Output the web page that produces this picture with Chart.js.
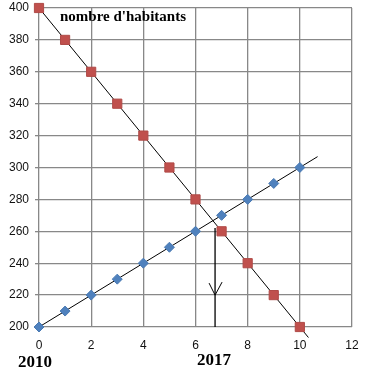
<!DOCTYPE html>
<html>
<head>
<meta charset="utf-8">
<script src="https://cdn.jsdelivr.net/npm/chart.js@4"></script>
<style>
  html, body { margin: 0; padding: 0; background: #fff; }
  #wrap { width: 382px; height: 385px; }
</style>
</head>
<body>
<div id="wrap"><canvas id="graphique"></canvas></div>
<script>
const annees = [0, 1, 2, 3, 4, 5, 6, 7, 8, 9, 10];
const villeA = [400, 380, 360, 340, 320, 300, 280, 260, 240, 220, 200];
const villeB = [200, 210, 220, 230, 240, 250, 260, 270, 280, 290, 300];

const droiteA_x = [-0.1, 10.33];
const droiteA_y = [402, 193.4];
const droiteB_x = [-0.1, 10.68];
const droiteB_y = [199, 306.8];

const flecheX = 6.75;
const flecheHaut = 262;
const flecheBas = 200;
const flechePointe = 220;

const titre = "nombre d'habitants";
const anneeDebut = '2010';
const anneeLue = '2017';

const pts = (xs, ys) => xs.map((x, i) => ({ x: x, y: ys[i] }));

const textes = {
  id: 'textes',
  afterDraw(chart) {
    const c = chart.ctx;
    const sx = chart.scales.x, sy = chart.scales.y;
    c.save();
    // fleche de lecture
    c.strokeStyle = '#000';
    c.lineWidth = 1.3;
    const fx = sx.getPixelForValue(flecheX);
    c.beginPath();
    c.moveTo(fx, sy.getPixelForValue(flecheHaut));
    c.lineTo(fx, sy.getPixelForValue(flecheBas));
    c.stroke();
    const py = sy.getPixelForValue(flechePointe);
    c.lineWidth = 1;
    c.beginPath();
    c.moveTo(fx - 6, py - 12);
    c.lineTo(fx, py);
    c.lineTo(fx + 7, py - 13);
    c.stroke();

    c.fillStyle = '#000';
    c.font = 'bold 15px "Liberation Serif"';
    c.textBaseline = 'middle';
    c.fillText(titre, 60, 17);
    c.font = 'bold 17px "Liberation Serif"';
    c.fillText(anneeDebut, 18, 363);
    c.fillText(anneeLue, 197, 361);
    c.restore();
  }
};

new Chart(document.getElementById('graphique'), {
  type: 'scatter',
  data: {
    datasets: [
      {
        data: pts(droiteA_x, droiteA_y),
        showLine: true, borderColor: '#000', borderWidth: 1,
        pointRadius: 0, order: 2, clip: false
      },
      {
        data: pts(droiteB_x, droiteB_y),
        showLine: true, borderColor: '#000', borderWidth: 1,
        pointRadius: 0, order: 2, clip: false
      },
      {
        data: pts(annees, villeA),
        pointStyle: 'rect', pointRadius: 6.5,
        backgroundColor: '#c0504d', borderColor: '#b04a47', borderWidth: 1,
        order: 1, clip: false
      },
      {
        data: pts(annees, villeB),
        pointStyle: 'rectRot', pointRadius: 5,
        backgroundColor: '#4f81bd', borderColor: '#4a7ab3', borderWidth: 1,
        order: 1, clip: false
      }
    ]
  },
  options: {
    responsive: true,
    maintainAspectRatio: false,
    animation: false,
    layout: { padding: { top: 8, right: 30, bottom: 31, left: 0 } },
    plugins: { legend: { display: false }, tooltip: { enabled: false } },
    scales: {
      x: {
        type: 'linear', min: 0, max: 12,
        ticks: { stepSize: 2, color: '#111', font: { family: 'Liberation Sans', size: 12 }, padding: 11 },
        grid: { color: '#888', lineWidth: 1.3, tickLength: 0 },
        border: { display: false },
        afterFit(s) { s.height = 27; }
      },
      y: {
        min: 200, max: 400,
        ticks: { stepSize: 20, color: '#111', font: { family: 'Liberation Sans', size: 12 }, padding: 6 },
        grid: { color: '#888', lineWidth: 1.3, tickLength: 4 },
        border: { display: false },
        afterFit(s) { s.width = 39; s.paddingTop = 0; s.paddingBottom = 0; }
      }
    }
  },
  plugins: [textes]
});
</script>
</body>
</html>
